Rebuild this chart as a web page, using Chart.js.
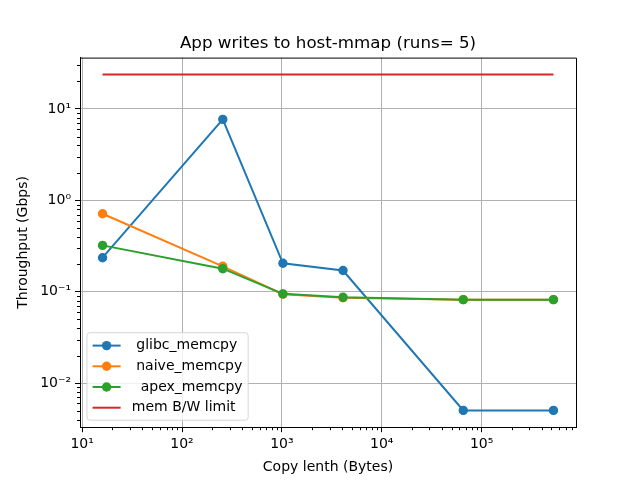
<!DOCTYPE html>
<html>
<head>
<meta charset="utf-8">
<script src="https://cdn.jsdelivr.net/npm/chart.js@4"></script>
<style>body{margin:0;background:#fff} canvas{display:block}</style>
</head>
<body>
<canvas id="myChart" width="640" height="480"></canvas>
<script>
var copySizes = [16, 256, 1024, 4096, 65536, 524288];
var glibcValues = [0.236, 7.7, 0.205, 0.171, 0.00504, 0.00504];
var naiveValues = [0.715, 0.190, 0.094, 0.086, 0.082, 0.082];
var apexValues = [0.322, 0.179, 0.095, 0.087, 0.082, 0.082];
var memLimitSizes = [16, 524288];
var memLimitValues = [23.9, 23.9];
var seriesLabels = [" glibc_memcpy", " naive_memcpy", "  apex_memcpy", "mem B/W limit"];
var seriesColors = ["#1f77b4", "#ff7f0e", "#2ca02c", "#d62728"];
var xTickLabels = {"1": "10¹", "2": "10²", "3": "10³", "4": "10⁴", "5": "10⁵"};
var yTickLabels = {"-2": "10⁻²", "-1": "10⁻¹", "0": "10⁰", "1": "10¹"};

Chart.defaults.font.family = "'DejaVu Sans'";
Chart.defaults.font.size = 14;
Chart.defaults.color = "#000";

function points(xs, ys) {
  return xs.map(function (x, i) { return {x: x, y: ys[i]}; });
}
// matplotlib style 5% margin in log space
function logRange(vals) {
  var lo = Math.log10(Math.min.apply(null, vals)), hi = Math.log10(Math.max.apply(null, vals));
  var m = (hi - lo) * 0.05;
  return [Math.pow(10, lo - m), Math.pow(10, hi + m)];
}
function isMajor(v) {
  var e = Math.log10(v);
  return Math.abs(e - Math.round(e)) < 1e-6;
}
// decade ticks 1..9 x 10^n inside the range
function decadeTicks(scale) {
  var ticks = [];
  var e0 = Math.floor(Math.log10(scale.min)), e1 = Math.ceil(Math.log10(scale.max));
  for (var e = e0; e <= e1; e++) {
    for (var s = 1; s <= 9; s++) {
      var v = s * Math.pow(10, e);
      if (e < 0) v = s / Math.pow(10, -e);
      if (v >= scale.min && v <= scale.max) ticks.push({value: v, major: s === 1});
    }
  }
  scale.ticks = ticks;
}

var xr = logRange(copySizes);
var yr = logRange(glibcValues.concat(naiveValues, apexValues, memLimitValues));

function axis(range, labels, titleText, fit, titlePad) {
  return {
    type: "logarithmic",
    min: range[0],
    max: range[1],
    afterBuildTicks: decadeTicks,
    border: {color: "#000", width: 1},
    grid: {
      color: function (c) { return isMajor(c.tick.value) ? "#b0b0b0" : "rgba(0,0,0,0)"; },
      lineWidth: 1,
      tickLength: 5,
      tickColor: function (c) { return isMajor(c.tick.value) ? "#000" : "rgba(0,0,0,0)"; }
    },
    ticks: {
      autoSkip: false,
      maxRotation: 0,
      padding: 4,
      callback: function (v) {
        return isMajor(v) ? (labels[String(Math.round(Math.log10(v)))] || "") : "";
      }
    },
    title: {display: true, text: titleText, font: {size: 14, lineHeight: 1}, padding: titlePad},
    afterFit: fit
  };
}

var extras = {
  id: "extras",
  afterDatasetsDraw: function (chart) {
    var ctx = chart.ctx, ca = chart.chartArea;
    ctx.save();
    // top and right spines
    ctx.strokeStyle = "#000";
    ctx.lineWidth = 1;
    ctx.beginPath();
    ctx.moveTo(ca.left, ca.top + 0.5);
    ctx.lineTo(ca.right + 0.5, ca.top + 0.5);
    ctx.lineTo(ca.right + 0.5, ca.bottom);
    ctx.stroke();

    // minor tick marks, shorter than the major ones
    ctx.beginPath();
    chart.scales.x.ticks.forEach(function (t) {
      if (t.major) return;
      var px = Math.round(chart.scales.x.getPixelForValue(t.value)) + 0.5;
      ctx.moveTo(px, ca.bottom);
      ctx.lineTo(px, ca.bottom + 3);
    });
    chart.scales.y.ticks.forEach(function (t) {
      if (t.major) return;
      var py = Math.round(chart.scales.y.getPixelForValue(t.value)) + 0.5;
      ctx.moveTo(ca.left, py);
      ctx.lineTo(ca.left - 3, py);
    });
    ctx.stroke();

    // legend, lower left
    ctx.font = "14px 'DejaVu Sans'";
    var tw = 0;
    seriesLabels.forEach(function (t) { tw = Math.max(tw, ctx.measureText(t).width); });
    var bx = ca.left + 7, by2 = ca.bottom - 7;
    var bw = 5.6 + 28 + 11.2 + tw + 5.6, bh = 87.5;
    var by = by2 - bh;
    ctx.fillStyle = "rgba(255,255,255,0.8)";
    ctx.strokeStyle = "rgba(204,204,204,0.8)";
    ctx.beginPath();
    ctx.roundRect(bx, by, bw, bh, 3);
    ctx.fill();
    ctx.stroke();
    seriesLabels.forEach(function (t, i) {
      var y = by2 - 12.5 - (3 - i) * 20.7;
      var x0 = bx + 5.6;
      ctx.strokeStyle = seriesColors[i];
      ctx.lineWidth = 2;
      ctx.beginPath();
      ctx.moveTo(x0, y);
      ctx.lineTo(x0 + 28, y);
      ctx.stroke();
      if (i < 3) {
        ctx.fillStyle = seriesColors[i];
        ctx.beginPath();
        ctx.arc(x0 + 14, y, 4.7, 0, Math.PI * 2);
        ctx.fill();
      }
      ctx.fillStyle = "#000";
      ctx.textBaseline = "middle";
      ctx.textAlign = "left";
      ctx.fillText(t, x0 + 28 + 11.2, y);
    });

    // title
    ctx.font = "16.7px 'DejaVu Sans'";
    ctx.textAlign = "center";
    ctx.textBaseline = "alphabetic";
    ctx.fillStyle = "#000";
    ctx.fillText("App writes to host-mmap (runs= 5)", (ca.left + ca.right) / 2, 47.5);
    ctx.restore();
  }
};

function series(label, xs, ys, color, order, withMarkers) {
  return {
    label: label,
    data: points(xs, ys),
    borderColor: color,
    backgroundColor: color,
    borderWidth: 2,
    pointRadius: withMarkers ? 4 : 0,
    pointBorderWidth: 1.4,
    pointBorderColor: color,
    pointBackgroundColor: color,
    tension: 0,
    order: order
  };
}

new Chart("myChart", {
  type: "line",
  data: {
    datasets: [
      series(seriesLabels[0], copySizes, glibcValues, seriesColors[0], 4, true),
      series(seriesLabels[1], copySizes, naiveValues, seriesColors[1], 3, true),
      series(seriesLabels[2], copySizes, apexValues, seriesColors[2], 2, true),
      series(seriesLabels[3], memLimitSizes, memLimitValues, seriesColors[3], 1, false)
    ]
  },
  options: {
    responsive: false,
    animation: false,
    devicePixelRatio: 1,
    layout: {padding: {top: 57.6, right: 64, left: 0, bottom: 0}},
    plugins: {legend: {display: false}, title: {display: false}, tooltip: {enabled: false}},
    scales: {
      x: axis(xr, xTickLabels, "Copy lenth (Bytes)", function (s) { s.height = 52.8; }, {top: 0, bottom: 6}),
      y: axis(yr, yTickLabels, "Throughput (Gbps)", function (s) { s.width = 80; }, {top: 16, bottom: 0})
    }
  },
  plugins: [extras]
});
</script>
</body>
</html>
